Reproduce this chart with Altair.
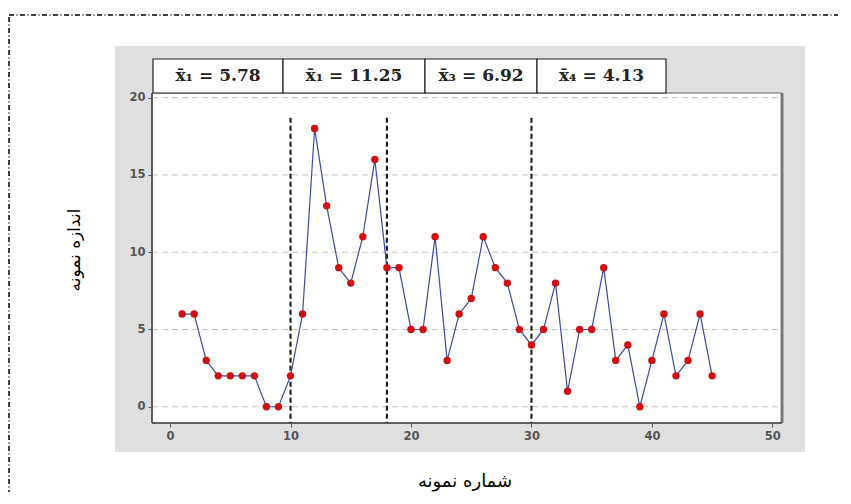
import altair as alt
import pandas as pd

# ---- data ----
sample_no = list(range(1, 46))
sample_size = [6, 6, 3, 2, 2, 2, 2, 0, 0, 2,
               6, 18, 13, 9, 8, 11, 16, 9, 9, 5,
               5, 11, 3, 6, 7, 11, 9, 8, 5, 4,
               5, 8, 1, 5, 5, 9, 3, 4, 0, 3,
               6, 2, 3, 6, 2]
split_points = [10, 18, 30]
split_top = 18.7
mean_labels = ["x̄₁ = 5.78", "x̄₁ = 11.25", "x̄₃ = 6.92", "x̄₄ = 4.13"]
x_ticks = [0, 10, 20, 30, 40, 50]
y_ticks = [0, 5, 10, 15, 20]
x_title = "شماره نمونه"
y_title = "اندازه نمونه"

# ---- layout constants (pixels, relative to plot origin) ----
W, H = 630, 330
cell_edges = [1, 131, 273, 385, 514]
cell_top, cell_bottom = -34, 0

df = pd.DataFrame({"n": sample_no, "v": sample_size})
one = pd.DataFrame({"a": [0]})

xs = alt.Scale(domain=[-1.5, 50.8], nice=False, zero=False)
ys = alt.Scale(domain=[-1.05, 20.3], nice=False, zero=False)

axis_style = dict(grid=False, domain=False, title=None, zindex=2,
                  tickSize=4, tickColor="#555", labelPadding=3,
                  labelFont="DejaVu Sans", labelFontSize=11.5,
                  labelFontWeight="bold", labelColor="#555")
x_enc = alt.X("n:Q", scale=xs, axis=alt.Axis(values=x_ticks, **axis_style))
y_enc = alt.Y("v:Q", scale=ys, axis=alt.Axis(values=y_ticks, **axis_style))

border = alt.Chart(one).mark_rect(
    fillOpacity=0, stroke="black", strokeWidth=1.5, strokeDash=[5, 2.5, 1, 2.5]
).encode(x=alt.value(-143), y=alt.value(-78), x2=alt.value(760), y2=alt.value(480))

panel = alt.Chart(one).mark_rect(fill="#dfdfdf").encode(
    x=alt.value(-37), y=alt.value(-47), x2=alt.value(653), y2=alt.value(359))

plot_bg = alt.Chart(one).mark_rect(fill="white", stroke="#666", strokeWidth=1).encode(
    x=alt.value(0), y=alt.value(0), x2=alt.value(W), y2=alt.value(H))

grid = alt.Chart(pd.DataFrame({"g": y_ticks})).mark_rule(
    color="#c4c4c4", strokeDash=[6, 4], strokeWidth=1
).encode(y=alt.Y("g:Q", scale=ys), x=alt.value(0), x2=alt.value(W))

splits = alt.Chart(pd.DataFrame({"s": split_points, "top": [split_top] * len(split_points)})).mark_rule(
    color="#222", strokeDash=[5, 3], strokeWidth=2.2
).encode(x=alt.X("s:Q", scale=xs), y=alt.Y("top:Q", scale=ys), y2=alt.value(H))

line = alt.Chart(df).mark_line(color="#3b4ba0", strokeWidth=1.2).encode(x=x_enc, y=y_enc)
pts = alt.Chart(df).mark_circle(color="#d01010", size=55, opacity=1).encode(
    x=alt.X("n:Q", scale=xs), y=alt.Y("v:Q", scale=ys))

right_edge = alt.Chart(one).mark_rule(color="#777", strokeWidth=3).encode(
    x=alt.value(W), y=alt.value(0), y2=alt.value(H))
left_edge = alt.Chart(one).mark_rule(color="#444", strokeWidth=1.5).encode(
    x=alt.value(0), y=alt.value(0), y2=alt.value(H))
bottom_edge = alt.Chart(one).mark_rule(color="#444", strokeWidth=1.5).encode(
    x=alt.value(0), x2=alt.value(W), y=alt.value(H))

layers = [border, panel, plot_bg, grid, splits, line, pts, right_edge, left_edge, bottom_edge]

for i, lab in enumerate(mean_labels):
    x0, x1 = cell_edges[i], cell_edges[i + 1]
    layers.append(alt.Chart(one).mark_rect(fill="white", stroke="#222", strokeWidth=1.2).encode(
        x=alt.value(x0), x2=alt.value(x1), y=alt.value(cell_top), y2=alt.value(cell_bottom)))
    layers.append(alt.Chart(pd.DataFrame({"t": [lab]})).mark_text(
        font="DejaVu Serif", fontWeight="bold", fontSize=17, color="#222",
        align="center", baseline="middle"
    ).encode(text="t:N", x=alt.value((x0 + x1) / 2), y=alt.value((cell_top + cell_bottom) / 2)))

xt = alt.Chart(pd.DataFrame({"t": [x_title]})).mark_text(
    font="DejaVu Sans", fontSize=18, color="black", align="center", baseline="middle"
).encode(text="t:N", x=alt.value(313), y=alt.value(389))
yt = alt.Chart(pd.DataFrame({"t": [y_title]})).mark_text(
    font="DejaVu Sans", fontSize=17, color="black", align="center", baseline="middle", angle=270
).encode(text="t:N", x=alt.value(-77), y=alt.value(157))
layers += [xt, yt]

chart = alt.layer(*layers).properties(
    width=W, height=H,
    autosize=alt.AutoSizeParams(type="none"),
    padding={"left": 144, "top": 85, "right": 56, "bottom": 69},
    background="white",
).configure_view(stroke=None)

chart.save("out.html", embed_options={"renderer": "svg", "actions": False})
